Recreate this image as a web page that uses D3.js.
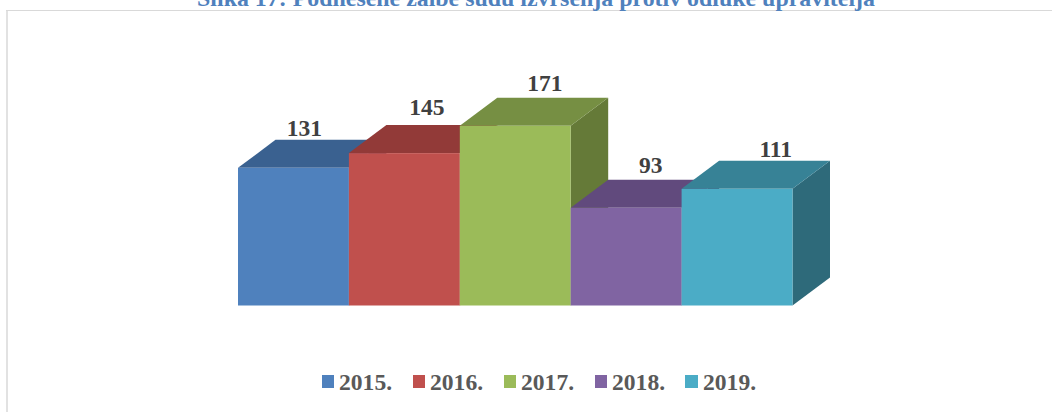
<!DOCTYPE html>
<html>
<head>
<meta charset="utf-8">
<script src="https://cdn.jsdelivr.net/npm/d3@7/dist/d3.min.js"></script>
<style>
html,body{margin:0;padding:0;background:#fff;overflow:hidden}
svg{display:block}
text{font-family:"Liberation Serif",serif;font-weight:bold}
</style>
</head>
<body>
<svg id="chart" width="1052" height="412"></svg>
<script>
const chartTitle = "Slika 17: Podnesene žalbe sudu izvršenja protiv odluke upravitelja";
const categories = ["2015.", "2016.", "2017.", "2018.", "2019."];
const values = [131, 145, 171, 93, 111];
const frontColors = ["#4f81bd", "#c0504d", "#9bbb59", "#8064a2", "#4bacc6"];
const topColors = ["#3a6190", "#923a38", "#768f43", "#614a7d", "#378296"];
const sideColors = ["#2f4f75", "#77302e", "#657a38", "#4f3c66", "#2e6a7a"];
const labelShift = [[11, 3.5], [22.5, 10], [29.5, 7], [24.6, 6.4], [38.7, 4.3]];

const svg = d3.select("#chart");
const depthX = 37.5, depthY = 28;
const x = d3.scaleBand().domain(categories).range([238, 792.5]).padding(0);
const y = d3.scaleLinear().domain([0, 171]).range([305.5, 125.8]);
const line = d3.line();

svg.append("path").attr("d", "M7,412V10.5").attr("fill", "none").attr("stroke", "#e2e2e2").attr("stroke-width", 2);
svg.append("path").attr("d", "M6,10.5H1052").attr("fill", "none").attr("stroke", "#d9d9d9").attr("stroke-width", 1.2);

svg.append("text").attr("x", 536).attr("y", 6).attr("text-anchor", "middle")
  .attr("font-size", 23.9).attr("fill", "#4f81bd").text(chartTitle);

const bars = svg.append("g").selectAll("g").data(categories).join("g");
bars.each(function (c, i) {
  const g = d3.select(this);
  const x0 = x(c), x1 = x0 + x.bandwidth(), t = y(values[i]), b = y(0);
  g.append("path").attr("fill", sideColors[i]).attr("d", line([[x1, t], [x1 + depthX, t - depthY], [x1 + depthX, b - depthY], [x1, b]]) + "Z");
  g.append("path").attr("fill", topColors[i]).attr("d", line([[x0, t], [x0 + depthX, t - depthY], [x1 + depthX, t - depthY], [x1, t]]) + "Z");
  g.append("rect").attr("x", x0).attr("y", t).attr("width", x.bandwidth()).attr("height", b - t).attr("fill", frontColors[i]);
});

svg.append("g").selectAll("text").data(categories).join("text")
  .attr("x", (c, i) => x(c) + x.bandwidth() / 2 + labelShift[i][0])
  .attr("y", (c, i) => y(values[i]) - depthY - labelShift[i][1])
  .attr("text-anchor", "middle").attr("font-size", 23.5).attr("fill", "#404040")
  .text((c, i) => values[i]);

const legendX = [322, 413, 504, 595, 685];
const legendGap = [17, 17, 17, 17, 18];
const legend = svg.append("g").selectAll("g").data(categories).join("g")
  .attr("transform", (c, i) => `translate(${legendX[i]},375)`);
legend.append("rect").attr("width", (c, i) => i === 4 ? 13 : 12).attr("height", 13).attr("fill", (c, i) => frontColors[i]);
legend.append("text").attr("x", (c, i) => legendGap[i]).attr("y", 14.5).attr("font-size", 23.6).attr("fill", "#595959").text(c => c);
</script>
</body>
</html>
